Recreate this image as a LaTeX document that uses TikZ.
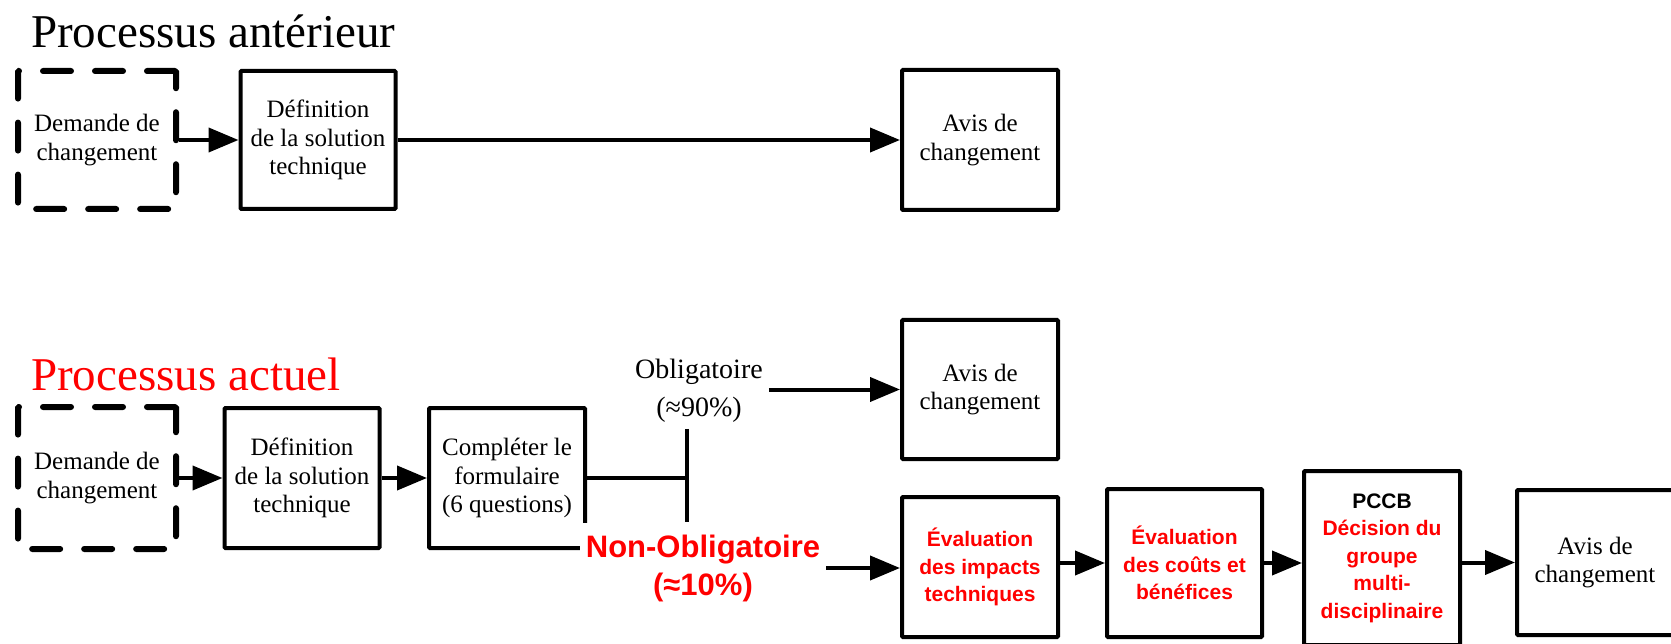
\documentclass[tikz,border=0pt]{standalone}
\usepackage{fontspec}
\setmainfont{Liberation Serif}
\newfontfamily\boldsans{Liberation Sans}
\usetikzlibrary{arrows.meta}

\begin{document}
\begin{tikzpicture}
[
	x=1pt, y=-1pt,
	box/.style={draw,line width=4pt,rounded corners=1pt,align=center,inner sep=0pt,font=\fontsize{25}{28.5}\selectfont},
	dashbox/.style={box,line width=6pt,dash pattern=on 28pt off 24pt,line cap=round},
	redbox/.style={box,text=red,font=\boldsans\bfseries\fontsize{21}{27.5}\selectfont},
	arr/.style={-{Triangle[length=30pt,width=24pt]},line width=4pt},
	title/.style={anchor=base west,inner sep=0pt,font=\fontsize{47}{50}\selectfont}
]

	\useasboundingbox (0,0) rectangle (1671,644);

	% titles
	\node[title] (titleold) at (31,48) {Processus antérieur};
	\node[title,text=red] (titlenew) at (31,390) {Processus actuel};

	% previous process
	\node[dashbox,minimum width=158pt,minimum height=138pt] (askold) at (97,140) {Demande de\\changement};
	\node[box,minimum width=155pt,minimum height=138pt] (defold) at (318,140) {Définition\\de la solution\\technique};
	\node[box,minimum width=156pt,minimum height=140pt] (noticeold) at (980,140) {Avis de\\changement};
	\draw[arr] (askold) -- (defold);
	\draw[arr] (defold) -- (noticeold);

	% current process
	\node[dashbox,minimum width=158pt,minimum height=142pt] (asknew) at (97,478) {Demande de\\changement};
	\node[box,minimum width=155pt,minimum height=140pt] (defnew) at (302,478) {Définition\\de la solution\\technique};
	\node[box,minimum width=156pt,minimum height=140pt] (form) at (507,478) {Compléter le\\formulaire\\(6 questions)};
	\draw[arr] (asknew) -- (defnew);
	\draw[arr] (defnew) -- (form);

	% branch
	\coordinate (fork) at (687,478);
	\node[align=center,inner sep=6pt,font=\fontsize{28}{38}\selectfont] (mand) at (699,391) {Obligatoire\\(≈90\%)};
	\node[fill=white,text=red,align=center,inner xsep=6pt,inner ysep=12pt,font=\boldsans\bfseries\fontsize{31}{38}\selectfont] (optional) at (703,568) {Non-Obligatoire\\(≈10\%)};
	\draw[line width=4pt] (form.east) -- (fork);
	\draw[line width=4pt] (fork |- mand.south) -- (fork |- optional.north);

	% mandatory
	\node[box,minimum width=156pt,minimum height=139pt] (noticemand) at (980,389.5) {Avis de\\changement};
	\draw[arr] (mand.east |- noticemand.west) -- (noticemand.west);

	% optional
	\node[redbox,minimum width=156pt,minimum height=140pt] (impacts) at (980,567) {Évaluation\\des impacts\\techniques};
	\node[redbox,minimum width=155pt,minimum height=148pt] (costs) at (1184.5,563) {Évaluation\\des coûts et\\bénéfices};
	\node[redbox,minimum width=156pt,minimum height=174pt] (pccb) at (1382,558) {\textcolor{black}{PCCB}\\Décision du\\groupe\\multi-\\disciplinaire};
	\node[box,minimum width=156pt,minimum height=145pt] (noticeopt) at (1595,562.5) {Avis de\\changement};
	\draw[arr] (optional.east) -- (optional.east -| impacts.west);
	\draw[arr] (impacts.east |- costs.west) -- (costs.west);
	\draw[arr] (costs.east) -- (costs.east -| pccb.west);
	\draw[arr] (pccb.east |- noticeopt.west) -- (noticeopt.west);

\end{tikzpicture}
\end{document}
